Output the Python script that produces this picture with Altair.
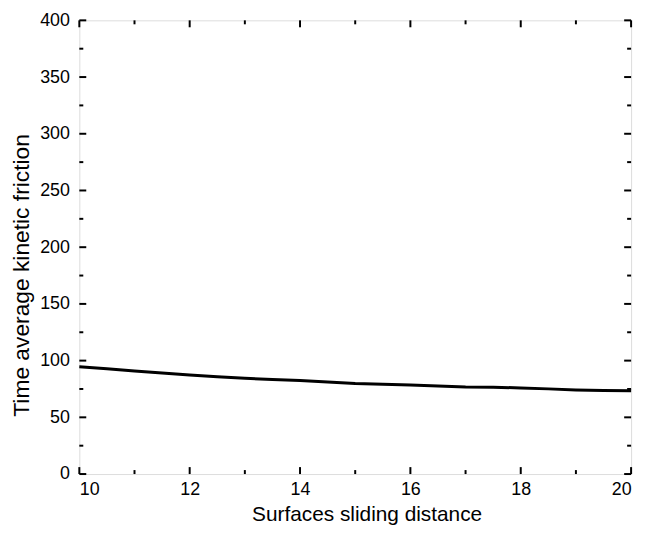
import altair as alt
import pandas as pd

# Data
distance = [10.0, 10.5, 11.0, 11.5, 12.0, 12.5, 13.0, 13.5, 14.0, 14.5, 15.0,
            15.5, 16.0, 16.5, 17.0, 17.5, 18.0, 18.5, 19.0, 19.5, 20.0]
friction = [94.6, 92.8, 90.9, 89.0, 87.3, 85.7, 84.4, 83.3, 82.5, 81.2, 79.8,
            79.2, 78.5, 77.7, 76.8, 76.6, 75.9, 75.1, 74.1, 73.6, 73.5]

x_major = [10, 12, 14, 16, 18, 20]
x_minor = [11, 13, 15, 17, 19]
y_major = [0, 50, 100, 150, 200, 250, 300, 350, 400]
y_minor = [25, 75, 125, 175, 225, 275, 325, 375]

x_title = "Surfaces sliding distance"
y_title = "Time average kinetic friction"

W, H = 557, 458
df = pd.DataFrame({"d": distance, "f": friction})

FONT = "Liberation Sans"
xs = alt.Scale(domain=[10, 20], nice=False, zero=False)
ys = alt.Scale(domain=[0, 400], nice=False)

x_axis = alt.Axis(
    values=x_major, ticks=False, domain=False, grid=False,
    labelFontSize=18, labelPadding=7, labelColor="black", labelFont=FONT,
    title=x_title, titleFontSize=21, titleFont=FONT, titleColor="black",
    titleFontWeight="normal", titleX=290, titleY=47, titleBaseline="alphabetic")
y_axis = alt.Axis(
    values=y_major, ticks=False, domain=False, grid=False,
    labelFontSize=18, labelPadding=10, labelColor="black", labelFont=FONT,
    title=y_title, titleFontSize=23, titleFont=FONT, titleColor="black",
    titleFontWeight="normal", titleX=-51, titleY=257, titleBaseline="alphabetic")

line = alt.Chart(df).mark_line(color="black", strokeWidth=3).encode(
    x=alt.X("d:Q", scale=xs, axis=x_axis),
    y=alt.Y("f:Q", scale=ys, axis=y_axis),
)


def xticks(vals, size, top):
    d = pd.DataFrame({"v": vals})
    y0 = 0 if top else H
    y1 = size if top else H - size
    return alt.Chart(d).mark_rule(color="black", strokeWidth=2).encode(
        x=alt.X("v:Q", scale=xs, axis=x_axis),
        y=alt.value(y0), y2=alt.value(y1))


def yticks(vals, size, right):
    d = pd.DataFrame({"v": vals})
    x0 = W if right else 0
    x1 = W - size if right else size
    return alt.Chart(d).mark_rule(color="black", strokeWidth=2).encode(
        y=alt.Y("v:Q", scale=ys, axis=y_axis),
        x=alt.value(x0), x2=alt.value(x1))


chart = alt.layer(
    line,
    xticks(x_major, 7, False), xticks(x_minor, 4, False),
    xticks(x_major, 7, True), xticks(x_minor, 4, True),
    yticks(y_major, 7, False), yticks(y_minor, 4, False),
    yticks(y_major, 7, True), yticks(y_minor, 4, True),
).properties(
    width=W, height=H,
    autosize=alt.AutoSizeParams(type="none"),
    padding={"left": 72, "top": 10, "right": 10, "bottom": 51},
).configure_view(
    stroke="black", strokeWidth=2
).configure_axis(
    labelFontSize=18, labelFont=FONT, labelColor="black"
).configure(background="white")

chart.save("out.html", embed_options={"renderer": "svg", "actions": False})
